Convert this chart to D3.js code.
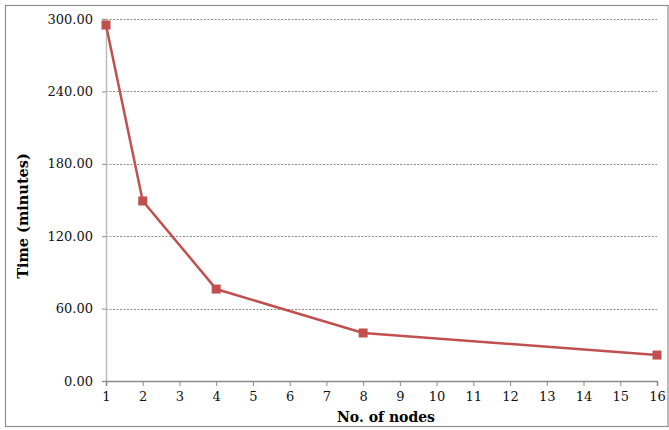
<!DOCTYPE html>
<html><head><meta charset="utf-8">
<script src="https://cdn.jsdelivr.net/npm/d3@7"></script>
<style>body{margin:0;background:#fff}svg{display:block}</style>
</head><body>
<svg id="c" width="669" height="430"></svg>
<script>
const nodes = [1, 2, 4, 8, 16];
const times = [295.0, 149.2, 76.2, 39.8, 21.5];
const xTicks = d3.range(1, 17);
const yTicks = [0, 60, 120, 180, 240, 300];
const xTitle = "No. of nodes";
const yTitle = "Time (minutes)";

const svg = d3.select("#c");
const font = "'DejaVu Serif', serif";
const m = {l:106, r:12, t:19, b:49};
const W = 669, H = 430;
const x = d3.scaleLinear().domain([1,16]).range([m.l, W - m.r]);
const y = d3.scaleLinear().domain([0,300]).range([H - m.b, m.t]);

svg.append("rect").attr("x",5.5).attr("y",5.5).attr("width",662.5).attr("height",421)
  .attr("fill","#fff").attr("stroke","#8c8c8c").attr("stroke-width",1.2);

// grid
svg.append("g").selectAll("line").data(yTicks.filter(d=>d>0)).join("line")
  .attr("x1",x(1)).attr("x2",x(16)).attr("y1",d=>Math.round(y(d))+0.5).attr("y2",d=>Math.round(y(d))+0.5)
  .attr("stroke","#8a8a8a").attr("stroke-width",1).attr("stroke-dasharray","2,1.5");

// y axis
const ya = svg.append("g").attr("transform",`translate(${x(1)},0)`)
  .call(d3.axisLeft(y).tickValues(yTicks).tickFormat(d3.format(".2f")).tickSize(4).tickPadding(9));
ya.select(".domain").attr("stroke","#bcbcbc").attr("stroke-width",1.5);
ya.selectAll(".tick line").attr("stroke","#8a8a8a");
ya.selectAll("text").attr("font-family",font).attr("font-size",13).attr("fill","#111");

// x axis
const xa = svg.append("g").attr("transform",`translate(0,${y(0)})`)
  .call(d3.axisBottom(x).tickValues(xTicks).tickFormat(d3.format("d")).tickSize(5).tickPadding(6));
xa.select(".domain").attr("stroke","#8a8a8a").attr("stroke-width",1.5);
xa.selectAll(".tick line").attr("stroke","#8a8a8a");
xa.selectAll("text").attr("font-family",font).attr("font-size",13).attr("fill","#111");

// titles
svg.append("text").attr("x",386).attr("y",422).attr("text-anchor","middle")
  .attr("font-family",font).attr("font-weight","bold").attr("font-size",14).text(xTitle);
svg.append("text").attr("transform",`translate(28,216) rotate(-90)`).attr("text-anchor","middle")
  .attr("font-family",font).attr("font-weight","bold").attr("font-size",14.5).text(yTitle);

// line
const data = nodes.map((n,i)=>({n, t:times[i]}));
svg.append("path").datum(data).attr("fill","none").attr("stroke","#c0504d").attr("stroke-width",2.5)
  .attr("d", d3.line().x(d=>x(d.n)).y(d=>y(d.t)));
svg.append("g").selectAll("rect").data(data).join("rect")
  .attr("x",d=>x(d.n)-4.5).attr("y",d=>y(d.t)-4.5).attr("width",9).attr("height",9)
  .attr("fill","#c0504d");
</script>
</body></html>
